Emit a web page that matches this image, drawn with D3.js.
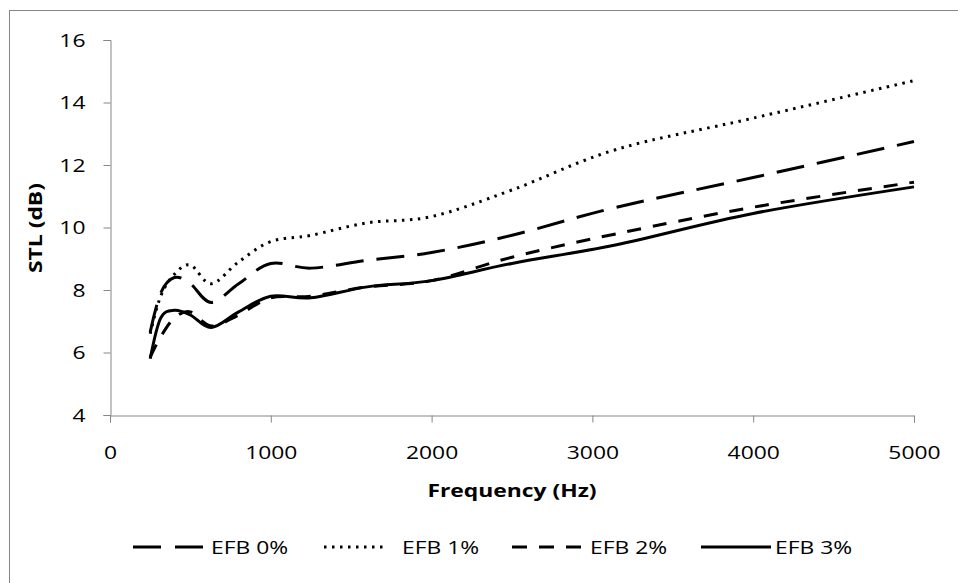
<!DOCTYPE html>
<html>
<head>
<meta charset="utf-8">
<script src="https://cdn.jsdelivr.net/npm/d3@7"></script>
<style>
  body { margin: 0; background: #fff; }
  text { font-family: "Open Sans", sans-serif; fill: #000; }
</style>
</head>
<body>
<script>
// 1/3 octave band frequencies (Hz)
var freqs = [250, 315, 400, 500, 630, 800, 1000, 1250, 1600, 2000, 2500, 3150, 4000, 5000];
// STL (dB) per sample
var efb0 = [6.65, 7.9, 8.4, 8.2, 7.6, 8.2, 8.85, 8.7, 8.95, 9.2, 9.75, 10.65, 11.6, 12.75];
var efb1 = [6.6, 7.8, 8.5, 8.8, 8.2, 8.9, 9.55, 9.75, 10.15, 10.35, 11.2, 12.5, 13.5, 14.7];
var efb2 = [5.85, 6.5, 7.1, 7.3, 6.85, 7.2, 7.75, 7.8, 8.1, 8.3, 9.05, 9.8, 10.65, 11.45];
var efb3 = [5.8, 7.1, 7.35, 7.2, 6.8, 7.3, 7.8, 7.75, 8.1, 8.3, 8.85, 9.45, 10.45, 11.3];
var seriesNames = ["EFB 0%", "EFB 1%", "EFB 2%", "EFB 3%"];
var xTicks = [0, 1000, 2000, 3000, 4000, 5000];
var yTicks = [4, 6, 8, 10, 12, 14, 16];

var W = 958, H = 583;
var SX = 1.27; // text looks horizontally stretched in the original
var svg = d3.select("body").append("svg").attr("width", W).attr("height", H);

// outer frame (right and bottom edges fall outside the picture)
svg.append("rect")
   .attr("x", 9.5).attr("y", 10.5)
   .attr("width", 1000).attr("height", 1000)
   .attr("fill", "#fff").attr("stroke", "#868686").attr("stroke-width", 1);

var x = d3.scaleLinear().domain([0, 5000]).range([110, 914]);
var y = d3.scaleLinear().domain([4, 16]).range([415, 40]);

// axes
var yAxis = svg.append("g")
   .attr("transform", "translate(110.5,0)")
   .call(d3.axisLeft(y).tickValues(yTicks).tickSize(7).tickFormat(d3.format("d")));
var xAxis = svg.append("g")
   .attr("transform", "translate(0,415.5)")
   .call(d3.axisBottom(x).tickValues(xTicks).tickSize(7).tickFormat(d3.format("d")));
[xAxis, yAxis].forEach(function(a){
  a.select(".domain").attr("stroke", "#868686");
  a.selectAll(".tick line").attr("stroke", "#868686");
  a.selectAll(".tick text")
   .style("font-size", "18px").style("font-family", "Open Sans").attr("fill", "#000");
});
xAxis.selectAll(".tick text")
   .attr("y", 0).attr("dy", 0)
   .attr("transform", "translate(0,43) scale(" + SX + ",1)");
yAxis.selectAll(".tick text")
   .attr("x", 0).attr("dy", "0.36em")
   .attr("transform", "translate(-25,0) scale(" + SX + ",1)");

svg.append("text")
   .attr("transform", "translate(512,497) scale(" + SX + ",1)")
   .attr("text-anchor", "middle")
   .style("font-size", "18px").style("font-weight", "bold")
   .text("Frequency (Hz)");
svg.append("text")
   .attr("transform", "translate(42,228) rotate(-90) scale(" + SX + ",1)")
   .attr("text-anchor", "middle")
   .style("font-size", "18px").style("font-weight", "bold")
   .text("STL (dB)");

// series
var dashes = ["28,13", "2.5,5.5", "14,12", null];
var allSeries = [efb0, efb1, efb2, efb3];

var line = d3.line()
   .x(function(d){ return x(d[0]); })
   .y(function(d){ return y(d[1]); })
   .curve(d3.curveCardinal.tension(0));

allSeries.forEach(function(vals, k){
  var pts = freqs.map(function(f, i){ return [f, vals[i]]; });
  svg.append("path")
     .datum(pts)
     .attr("d", line)
     .attr("fill", "none")
     .attr("stroke", "#000")
     .attr("stroke-width", 3)
     .attr("stroke-dasharray", dashes[k]);
});

// legend
var legX = [133, 324, 512, 701];
var legDash = ["28,14", "2.5,5.5", "15,12", null];
var legend = svg.append("g");
seriesNames.forEach(function(name, k){
  var g = legend.append("g").attr("transform", "translate(" + legX[k] + ",547)");
  g.append("line")
   .attr("x1", 0).attr("x2", k == 1 ? 64 : 70)
   .attr("y1", 0).attr("y2", 0)
   .attr("stroke", "#000").attr("stroke-width", 3)
   .attr("stroke-dasharray", legDash[k]);
  g.append("text")
   .attr("transform", "translate(" + (k == 1 ? 78 : k == 3 ? 74 : 78) + ",6.5) scale(" + SX + ",1)")
   .style("font-size", "18px")
   .text(name);
});
</script>
</body>
</html>
